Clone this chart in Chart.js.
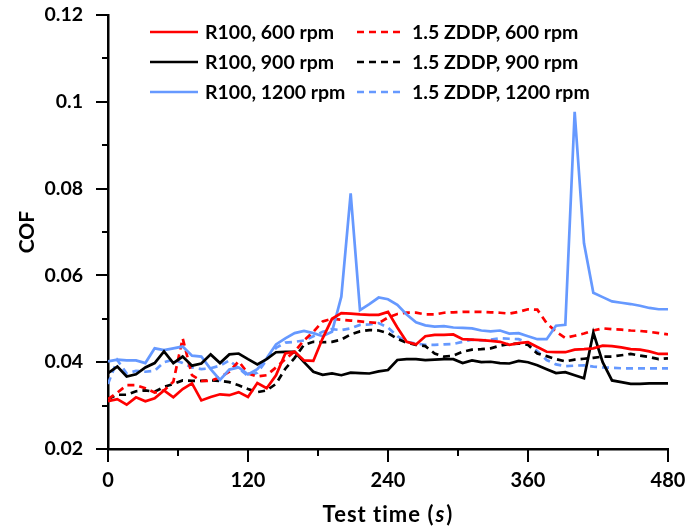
<!DOCTYPE html>
<html>
<head>
<meta charset="utf-8">
<script src="https://cdn.jsdelivr.net/npm/chart.js@4.4.1/dist/chart.umd.min.js"></script>
<style>
  html, body { margin: 0; padding: 0; background: #fff; }
  #wrap { width: 688px; height: 529px; }
</style>
</head>
<body>
<div id="wrap"><canvas id="myChart" width="688" height="529"></canvas></div>
<script>
// test time (s)
const timeSec = [0, 8, 16, 24, 32, 40, 48, 56, 64, 72,
    80, 88, 96, 104, 112, 120, 128, 136, 144, 152,
    160, 168, 176, 184, 192, 200, 208, 216, 224, 232,
    240, 248, 256, 264, 272, 280, 288, 296, 304, 312,
    320, 328, 336, 344, 352, 360, 368, 376, 384, 392,
    400, 408, 416, 424, 432, 440, 448, 456, 464, 472,
    480];

// COF values
const r100_600 = [0.0310, 0.0315, 0.0302, 0.0319, 0.0310, 0.0317, 0.0335, 0.0319, 0.0338, 0.0351,
    0.0312, 0.0320, 0.0326, 0.0324, 0.0331, 0.0320, 0.0352, 0.0340, 0.0370, 0.0420,
    0.0424, 0.0404, 0.0403, 0.0455, 0.0500, 0.0513, 0.0512, 0.0510, 0.0509, 0.0509,
    0.0516, 0.0480, 0.0447, 0.0441, 0.0460, 0.0463, 0.0463, 0.0464, 0.0453, 0.0452,
    0.0451, 0.0449, 0.0447, 0.0440, 0.0444, 0.0446, 0.0435, 0.0424, 0.0423, 0.0423,
    0.0429, 0.0430, 0.0432, 0.0438, 0.0437, 0.0434, 0.0430, 0.0429, 0.0425, 0.0419,
    0.0419];
const r100_900 = [0.0375, 0.0390, 0.0367, 0.0372, 0.0388, 0.0398, 0.0425, 0.0398, 0.0413, 0.0392,
    0.0397, 0.0418, 0.0398, 0.0418, 0.0420, 0.0407, 0.0395, 0.0407, 0.0423, 0.0424,
    0.0424, 0.0400, 0.0378, 0.0371, 0.0374, 0.0370, 0.0376, 0.0375, 0.0374, 0.0379,
    0.0382, 0.0405, 0.0407, 0.0407, 0.0405, 0.0406, 0.0407, 0.0407, 0.0398, 0.0404,
    0.0400, 0.0401, 0.0398, 0.0397, 0.0403, 0.0400, 0.0393, 0.0384, 0.0375, 0.0377,
    0.0370, 0.0363, 0.0468, 0.0400, 0.0358, 0.0354, 0.0350, 0.0350, 0.0351, 0.0351,
    0.0351];
const r100_1200 = [0.0402, 0.0406, 0.0404, 0.0404, 0.0398, 0.0432, 0.0428, 0.0432, 0.0436, 0.0415,
    0.0413, 0.0384, 0.0359, 0.0383, 0.0388, 0.0372, 0.0384, 0.0409, 0.0441, 0.0455,
    0.0467, 0.0472, 0.0467, 0.0460, 0.0470, 0.0551, 0.0789, 0.0520, 0.0534, 0.0549,
    0.0545, 0.0532, 0.0510, 0.0492, 0.0485, 0.0482, 0.0483, 0.0480, 0.0479, 0.0478,
    0.0473, 0.0471, 0.0473, 0.0466, 0.0467, 0.0460, 0.0453, 0.0453, 0.0484, 0.0486,
    0.0977, 0.0674, 0.0560, 0.0550, 0.0540, 0.0537, 0.0534, 0.0530, 0.0525, 0.0522,
    0.0522];
const zddp_600 = [0.0315, 0.0330, 0.0347, 0.0347, 0.0340, 0.0330, 0.0335, 0.0355, 0.0455, 0.0370,
    0.0357, 0.0357, 0.0365, 0.0378, 0.0402, 0.0374, 0.0367, 0.0370, 0.0388, 0.0407,
    0.0425, 0.0450, 0.0470, 0.0494, 0.0500, 0.0498, 0.0496, 0.0494, 0.0492, 0.0490,
    0.0503, 0.0511, 0.0514, 0.0514, 0.0510, 0.0510, 0.0514, 0.0515, 0.0516, 0.0516,
    0.0516, 0.0515, 0.0514, 0.0512, 0.0516, 0.0522, 0.0521, 0.0490, 0.0470, 0.0456,
    0.0461, 0.0466, 0.0473, 0.0478, 0.0476, 0.0475, 0.0473, 0.0472, 0.0470, 0.0467,
    0.0464];
const zddp_900 = [0.0315, 0.0325, 0.0325, 0.0333, 0.0335, 0.0332, 0.0343, 0.0350, 0.0358, 0.0357,
    0.0357, 0.0358, 0.0357, 0.0354, 0.0347, 0.0338, 0.0331, 0.0335, 0.0350, 0.0385,
    0.0410, 0.0440, 0.0447, 0.0446, 0.0447, 0.0452, 0.0464, 0.0471, 0.0474, 0.0473,
    0.0467, 0.0454, 0.0445, 0.0440, 0.0437, 0.0420, 0.0413, 0.0415, 0.0424, 0.0429,
    0.0430, 0.0432, 0.0438, 0.0442, 0.0443, 0.0440, 0.0420, 0.0414, 0.0407, 0.0402,
    0.0406, 0.0408, 0.0410, 0.0413, 0.0413, 0.0416, 0.0419, 0.0415, 0.0412, 0.0407,
    0.0409];
const zddp_1200 = [0.0350, 0.0405, 0.0374, 0.0380, 0.0378, 0.0380, 0.0400, 0.0406, 0.0398, 0.0388,
    0.0384, 0.0386, 0.0392, 0.0404, 0.0386, 0.0368, 0.0376, 0.0405, 0.0433, 0.0445,
    0.0447, 0.0450, 0.0460, 0.0470, 0.0476, 0.0474, 0.0478, 0.0486, 0.0487, 0.0490,
    0.0480, 0.0460, 0.0447, 0.0443, 0.0440, 0.0440, 0.0441, 0.0442, 0.0447, 0.0452,
    0.0450, 0.0452, 0.0455, 0.0454, 0.0453, 0.0445, 0.0425, 0.0405, 0.0395, 0.0391,
    0.0392, 0.0393, 0.0390, 0.0388, 0.0387, 0.0386, 0.0386, 0.0386, 0.0386, 0.0386,
    0.0386];

const seriesNames = ['R100, 600 rpm', 'R100, 900 rpm', 'R100, 1200 rpm',
    '1.5 ZDDP, 600 rpm', '1.5 ZDDP, 900 rpm', '1.5 ZDDP, 1200 rpm'];

// axis ticks
const xTicks = [0, 120, 240, 360, 480];
const xMinorTicks = [60, 180, 300, 420];
const yTicks = [0.02, 0.04, 0.06, 0.08, 0.10, 0.12];
const yMinorTicks = [0.03, 0.05, 0.07, 0.09, 0.11];

const RED = '#ff0000', BLACK = '#000000', BLUE = '#6699ff';
const FONT = 'Lato, "Open Sans", sans-serif';

function toPoints(values) {
    return timeSec.map((t, i) => ({ x: t, y: values[i] }));
}

function makeSet(label, values, color, dashed) {
    return {
        label: label,
        data: toPoints(values),
        borderColor: color,
        backgroundColor: color,
        borderWidth: 2.7,
        borderDash: dashed ? [7, 5] : [],
        pointRadius: 0,
        tension: 0,
        fill: false
    };
}

// tick marks, titles and the two-column legend
const decorPlugin = {
    id: 'decor',
    afterDraw(chart) {
        const ctx = chart.ctx;
        const xs = chart.scales.x, ys = chart.scales.y;
        const area = chart.chartArea;
        ctx.save();
        ctx.strokeStyle = '#000';
        ctx.lineWidth = 2;
        ctx.setLineDash([]);
        xTicks.concat(xMinorTicks).forEach(v => {
            const px = Math.round(xs.getPixelForValue(v));
            const len = xTicks.includes(v) ? 13 : 7;
            ctx.beginPath();
            ctx.moveTo(px, area.bottom);
            ctx.lineTo(px, area.bottom + len);
            ctx.stroke();
        });
        yTicks.concat(yMinorTicks).forEach(v => {
            const py = Math.round(ys.getPixelForValue(v));
            const len = yTicks.includes(v) ? 12 : 6;
            ctx.beginPath();
            ctx.moveTo(area.left, py);
            ctx.lineTo(area.left - len, py);
            ctx.stroke();
        });

        // axis titles
        ctx.fillStyle = '#000';
        ctx.textBaseline = 'middle';
        const boldFont = 'bold 22px ' + FONT;
        const italFont = 'italic bold 22px ' + FONT;
        ctx.letterSpacing = '1px';
        ctx.font = boldFont;
        const p1 = 'Test time (', p3 = ')';
        const w1 = ctx.measureText(p1).width, w3 = ctx.measureText(p3).width;
        ctx.font = italFont;
        const w2 = ctx.measureText('s').width + 2;
        let tx = (area.left + area.right) / 2 - (w1 + w2 + w3) / 2;
        ctx.textAlign = 'left';
        ctx.font = boldFont;
        ctx.fillText(p1, tx, 515);
        ctx.font = italFont;
        ctx.fillText('s', tx + w1 + 1, 515);
        ctx.font = boldFont;
        ctx.fillText(p3, tx + w1 + w2, 515);
        ctx.letterSpacing = '0px';

        ctx.save();
        ctx.translate(27, 232);
        ctx.rotate(-Math.PI / 2);
        ctx.textAlign = 'center';
        ctx.font = 'bold 21px ' + FONT;
        ctx.fillText('COF', 0, 0);
        ctx.restore();

        // legend
        const rowsY = [32, 62, 92];
        const cols = [{ x0: 150, x1: 198, tx: 205 }, { x0: 357, x1: 400, tx: 412 }];
        ctx.font = 'bold 19.5px ' + FONT;
        ctx.textAlign = 'left';
        chart.data.datasets.forEach((ds, i) => {
            const col = cols[Math.floor(i / 3)];
            const y = rowsY[i % 3];
            ctx.strokeStyle = ds.borderColor;
            ctx.lineWidth = 2.7;
            ctx.setLineDash(ds.borderDash);
            ctx.beginPath();
            ctx.moveTo(col.x0, y);
            ctx.lineTo(col.x1, y);
            ctx.stroke();
            ctx.setLineDash([]);
            ctx.fillStyle = '#000';
            ctx.fillText(ds.label, col.tx, y + 1);
        });
        ctx.restore();
    }
};

var ctx = document.getElementById('myChart').getContext('2d');
var myChart = new Chart(ctx, {
    type: 'line',
    data: {
        datasets: [
            makeSet(seriesNames[0], r100_600, RED, false),
            makeSet(seriesNames[1], r100_900, BLACK, false),
            makeSet(seriesNames[2], r100_1200, BLUE, false),
            makeSet(seriesNames[3], zddp_600, RED, true),
            makeSet(seriesNames[4], zddp_900, BLACK, true),
            makeSet(seriesNames[5], zddp_1200, BLUE, true)
        ]
    },
    options: {
        responsive: false,
        animation: false,
        devicePixelRatio: 1,
        layout: { padding: { top: 15, right: 20, left: 0, bottom: 0 } },
        plugins: {
            legend: { display: false },
            tooltip: { enabled: false }
        },
        scales: {
            x: {
                type: 'linear',
                min: 0,
                max: 480,
                afterBuildTicks: (scale) => { scale.ticks = xTicks.map(v => ({ value: v })); },
                afterFit: (scale) => {
                    scale.height = 80;
                    scale.paddingLeft = 0;
                    scale.paddingRight = 0;
                },
                grid: { display: false },
                border: { display: true, color: '#000', width: 2.5 },
                ticks: {
                    color: '#000',
                    padding: 12,
                    maxRotation: 0,
                    font: { family: FONT, size: 20, weight: 'bold' }
                }
            },
            y: {
                min: 0.02,
                max: 0.12,
                afterBuildTicks: (scale) => { scale.ticks = yTicks.map(v => ({ value: v })); },
                afterFit: (scale) => {
                    scale.width = 108;
                    scale.paddingTop = 0;
                    scale.paddingBottom = 0;
                },
                grid: { display: false },
                border: { display: true, color: '#000', width: 2.5 },
                ticks: {
                    color: '#000',
                    padding: 17,
                    font: { family: FONT, size: 19.5, weight: 'bold' },
                    callback: (v) => String(parseFloat(Number(v).toFixed(2)))
                }
            }
        }
    },
    plugins: [decorPlugin]
});
</script>
</body>
</html>
